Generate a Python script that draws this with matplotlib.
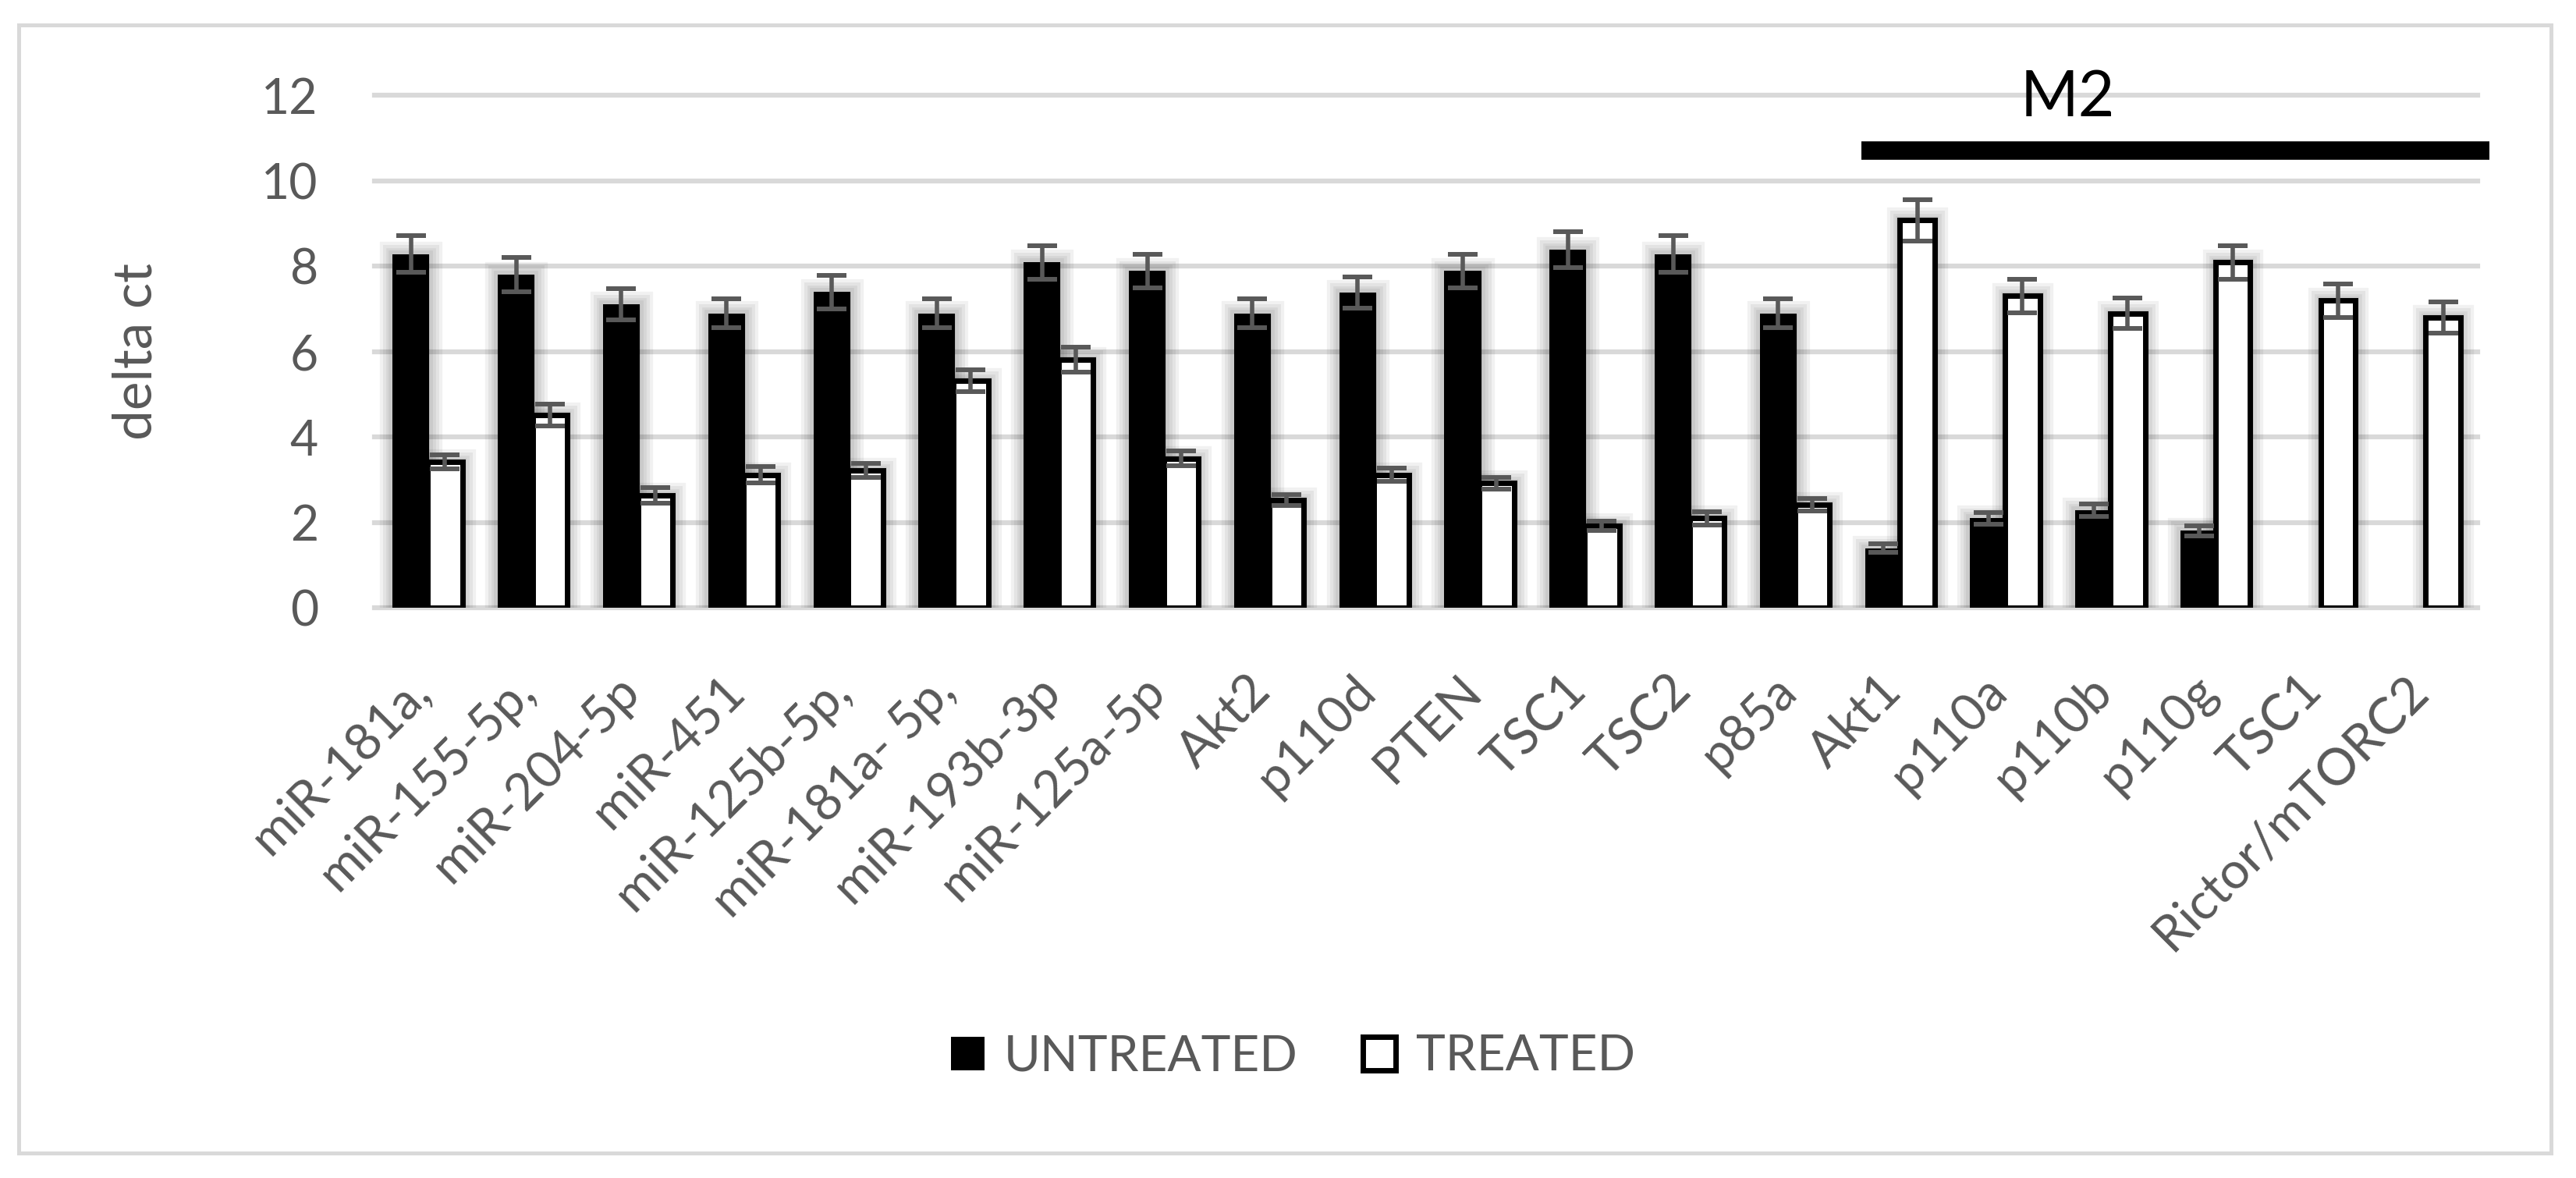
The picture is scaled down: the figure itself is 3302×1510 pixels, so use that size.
import numpy as np
import matplotlib
matplotlib.use("Agg")
import matplotlib.pyplot as plt
import matplotlib.patheffects as pe
import matplotlib.transforms as mtransforms
from matplotlib.patches import Patch, Rectangle

genes = ["miR-181a,", "miR-155-5p,", "miR-204-5p", "miR-451", "miR-125b-5p,",
         "miR-181a- 5p,", "miR-193b-3p", "miR-125a-5p", "Akt2", "p110d", "PTEN",
         "TSC1", "TSC2", "p85a", "Akt1", "p110a", "p110b", "p110g", "TSC1",
         "Rictor/mTORC2"]
untreated = [8.29, 7.80, 7.11, 6.90, 7.40, 6.90, 8.09, 7.89, 6.90, 7.39,
             7.89, 8.40, 8.29, 6.90, 1.40, 2.10, 2.29, 1.81, 0, 0]
untreated_err = [0.43, 0.40, 0.37, 0.34, 0.39, 0.34, 0.40, 0.40, 0.34, 0.37,
                 0.40, 0.42, 0.43, 0.34, 0.10, 0.14, 0.15, 0.12, 0, 0]
treated = [3.42, 4.52, 2.64, 3.12, 3.22, 5.32, 5.82, 3.50, 2.52, 3.12,
           2.92, 1.92, 2.10, 2.42, 9.08, 7.31, 6.90, 8.09, 7.20, 6.80]
treated_err = [0.17, 0.25, 0.18, 0.20, 0.17, 0.26, 0.29, 0.17, 0.13, 0.15,
               0.14, 0.11, 0.15, 0.15, 0.48, 0.39, 0.35, 0.40, 0.39, 0.37]

plt.rcParams['font.family'] = ['Lato', 'DejaVu Sans']
grey = '#595959'
light = '#d9d9d9'

fig = plt.figure(figsize=(33.02, 15.10), dpi=100)
ax = fig.add_axes([0.1454, 0.4839, 0.8165, 0.4350])
x = np.arange(len(genes))
u = np.array(untreated)
t = np.array(treated)

# soft shadow round the bars, like the excel export
glow = [pe.Stroke(linewidth=w, foreground='k', alpha=0.055) for w in (24, 18, 12, 7)] + [pe.Normal()]

b1 = ax.bar(x - 0.153, u, 0.35, color='black', linewidth=0, zorder=2)
b2 = ax.bar(x + 0.17, t, 0.33, color='white', edgecolor='black', linewidth=5, zorder=2)
for r in list(b1) + list(b2):
    if r.get_height() > 0:
        r.set_path_effects(glow)

m = u > 0
ax.errorbar(x[m] - 0.153, u[m], yerr=np.array(untreated_err)[m], fmt='none',
            ecolor=grey, elinewidth=4, capsize=14, capthick=4.3, zorder=3)
ax.errorbar(x + 0.17, t, yerr=treated_err, fmt='none',
            ecolor=grey, elinewidth=4, capsize=14, capthick=4.3, zorder=3)

ax.set_xlim(-0.5, 19.5)
ax.set_ylim(0, 12)
ax.set_yticks(range(0, 13, 2))
ax.yaxis.grid(True, color=light, linewidth=4.5)
ax.set_axisbelow(True)
for gl in ax.get_ygridlines():
    gl.set_clip_on(False)
for s in ax.spines.values():
    s.set_visible(False)

ax.tick_params(axis='both', length=0, labelsize=45, labelcolor=grey)
ax.tick_params(axis='y', pad=52)
ax.set_xticks(x)
ax.set_xticklabels(genes, rotation=45, ha='right', va='baseline',
                   rotation_mode='anchor', fontsize=47)
ax.tick_params(axis='x', pad=79)
shift = mtransforms.ScaledTranslation(0.06, 0, fig.dpi_scale_trans)
for lab in ax.get_xticklabels():
    lab.set_transform(lab.get_transform() + shift)

ax.set_ylabel('delta ct', fontsize=50, color=grey, va='center')
ax.yaxis.set_label_coords(-0.1131, 0.5)

# M2 bracket over the last six genes
ax.plot([13.64, 19.61], [10.72, 10.72], color='black', lw=17,
        solid_capstyle='butt', clip_on=False, zorder=4)
ax.text(15.6, 11.52, 'M2', ha='center', va='baseline', fontsize=58,
        color='black', clip_on=False)

handles = [Patch(facecolor='black', edgecolor='black', linewidth=0),
           Patch(facecolor='white', edgecolor='black', linewidth=5)]
fig.legend(handles, ['UNTREATED', 'TREATED'], loc='center',
           bbox_to_anchor=(0.502, 0.103), ncol=2, frameon=False, fontsize=46,
           handlelength=0.66, handleheight=0.66, handletextpad=0.4,
           columnspacing=1.3, labelcolor=grey)

fig.patches.append(Rectangle((0.0073, 0.0212), 0.983, 0.9576, transform=fig.transFigure,
                             fill=False, edgecolor=light, linewidth=3.6))

fig.savefig('out.png', dpi=100)
